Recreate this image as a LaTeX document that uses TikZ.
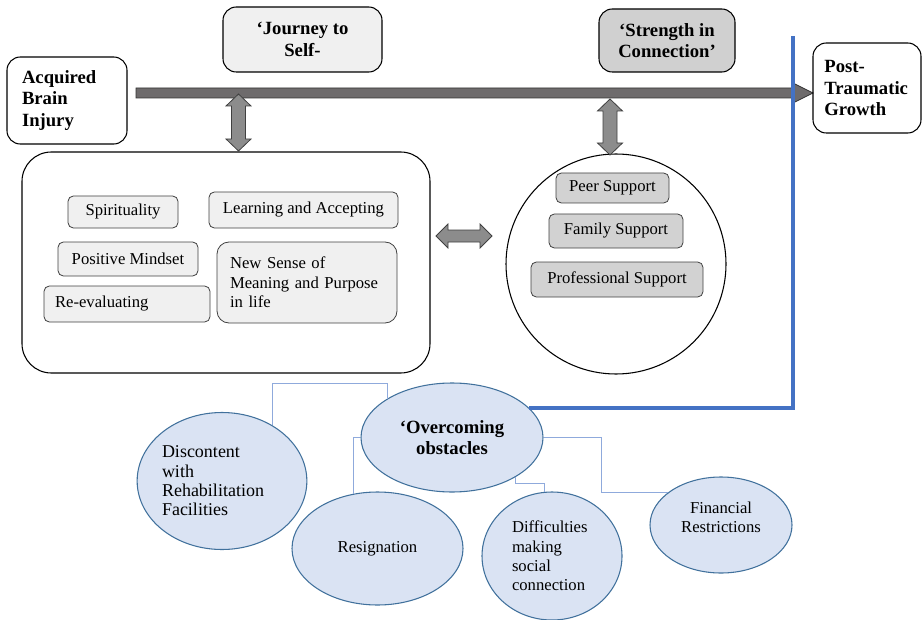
\documentclass[tikz,border=0pt]{standalone}
\usepackage{fontspec}
\setmainfont{Liberation Serif}
\usepackage{tikz}
\usetikzlibrary{calc,positioning,shapes.geometric}

\definecolor{dblgray}{HTML}{8C8C8C}
\definecolor{maingray}{HTML}{6E6B6C}
\definecolor{obstfill}{HTML}{DAE3F3}
\definecolor{obstline}{HTML}{41719C}
\definecolor{twigblue}{HTML}{8FAADC}
\definecolor{pathblue}{HTML}{4472C4}

\begin{document}
\begin{tikzpicture}[x=0.75pt,y=-0.75pt]

    \tikzset{
      headbox/.style={
        draw,
        line width=0.8pt,
        rounded corners=10pt,
        inner sep=0pt,
        font=\fontsize{14}{16}\selectfont\bfseries,
      },
      itembox/.style={
        draw=black!75,
        line width=0.6pt,
        rounded corners=4pt,
        inner sep=0pt,
        font=\fontsize{12.5}{14.5}\selectfont,
      },
      obstacle/.style={
        ellipse,
        draw=obstline,
        fill=obstfill,
        line width=0.8pt,
        inner sep=0pt,
        font=\fontsize{12.5}{14.5}\selectfont,
      },
      twig/.style={draw=twigblue, line width=0.8pt},
      fatarrow/.style={draw=black!75, line width=0.6pt, fill=dblgray},
    }
    \useasboundingbox (0,0) rectangle (923,620);

    % main timeline
    \draw[draw=black!80, line width=0.6pt, fill=maingray] (136,88)--(793,88)--(793,83)--(813,93)--(793,103)--(793,98)--(136,98)--cycle;

    \node[headbox, minimum width=90pt, minimum height=65.25pt, text width=67.5pt, align=left] (abi) at (67,100.5) {Acquired\\Brain\\Injury};
    \node[headbox, fill=gray!12, minimum width=119.25pt, minimum height=48.75pt, align=center] (journey) at (302.5,39.5) {‘Journey to\\Self-};
    \node[headbox, fill=gray!37, minimum width=102pt, minimum height=47.25pt, align=center] (strength) at (667,40.5) {‘Strength in\\Connection’};
    \node[headbox, minimum width=81pt, minimum height=67.5pt, text width=64pt, align=left] (ptg) at (867,88) {Post-\\Traumatic\\Growth};

    % themes
    \node[draw, line width=0.8pt, rounded corners=22pt, minimum width=306pt, minimum height=165.75pt] (selfbox) at (226,262.5) {};
    \node[circle, draw, line width=0.8pt, minimum size=165pt] (supp) at (616,264) {};

    \node[itembox, fill=gray!12, minimum width=82.5pt, minimum height=24pt] (spirit) at (123,212) {Spirituality};
    \node[itembox, fill=gray!12, minimum width=141.75pt, minimum height=27pt] (learn) at (303.5,210) {Learning and Accepting};
    \node[itembox, fill=gray!12, minimum width=105pt, minimum height=25.5pt] (posit) at (128,259) {Positive Mindset};
    \node[itembox, fill=gray!12, minimum width=135pt, minimum height=60.75pt, text width=115.5pt, align=left, rounded corners=9pt] (newsense) at (307,282.5) {New Sense of\\Meaning and Purpose\\in life};
    \node[itembox, fill=gray!12, minimum width=124.5pt, minimum height=27pt, text width=108pt, align=left] (reeval) at (127,304) {Re-evaluating};

    \node[itembox, fill=gray!35, minimum width=84.75pt, minimum height=22.5pt] (peer) at (612.5,188) {Peer Support};
    \node[itembox, fill=gray!35, minimum width=100.5pt, minimum height=25.5pt] (family) at (616,231) {Family Support};
    \node[itembox, fill=gray!35, minimum width=129pt, minimum height=26.25pt] (prof) at (617,279.5) {Professional Support};

    % double arrows
    \draw[fatarrow] (238.5,94)--(251,106)--(245.5,106)--(245.5,139)--(251,139)--(238.5,151)--(226,139)--(231.5,139)--(231.5,106)--(226,106)--cycle;
    \draw[fatarrow] (610,99)--(622.5,111)--(617,111)--(617,143)--(622.5,143)--(610,155)--(597.5,143)--(603,143)--(603,111)--(597.5,111)--cycle;
    \draw[fatarrow] (436,236)--(448,224)--(448,230)--(480,230)--(480,224)--(492,236)--(480,248)--(480,242)--(448,242)--(448,248)--cycle;

    % obstacles
    \node[obstacle, minimum width=136.5pt, minimum height=81.75pt, font=\fontsize{14}{16}\selectfont\bfseries, align=center] (overcome) at (452,437.5) {‘Overcoming\\obstacles};
    \node[obstacle, minimum width=103.5pt, minimum height=102.75pt, text width=90pt, align=left, font=\fontsize{13.5}{14.5}\selectfont] (discont) at (222,481) {Discontent\\with\\Rehabilitation\\Facilities};
    \node[obstacle, minimum width=128.25pt, minimum height=84.75pt] (resign) at (377.5,548.5) {Resignation};
    \node[obstacle, minimum width=105pt, minimum height=96pt, text width=60pt, align=left] (diffic) at (552,556) {Difficulties\\making\\social\\connection};
    \node[obstacle, minimum width=106.5pt, minimum height=72pt, align=center] (financ) at (721,525) {Financial\\Restrictions\\[-3pt]\mbox{}};

    \draw[twig] (discont.48) |- ($(overcome.149)+(0,-15)$) -- (overcome.149);
    \draw[twig] (overcome.west) -| (resign.114);
    \draw[twig] (overcome.-32) -- ++(0,6) -| (diffic.97);
    \draw[twig] (overcome.east) -- ++(58,0) |- (financ.148);

    % growth path
    \coordinate (bluetop) at (793,36);
    \draw[pathblue, line width=3pt] (overcome.21) -| (bluetop);

\end{tikzpicture}
\end{document}
